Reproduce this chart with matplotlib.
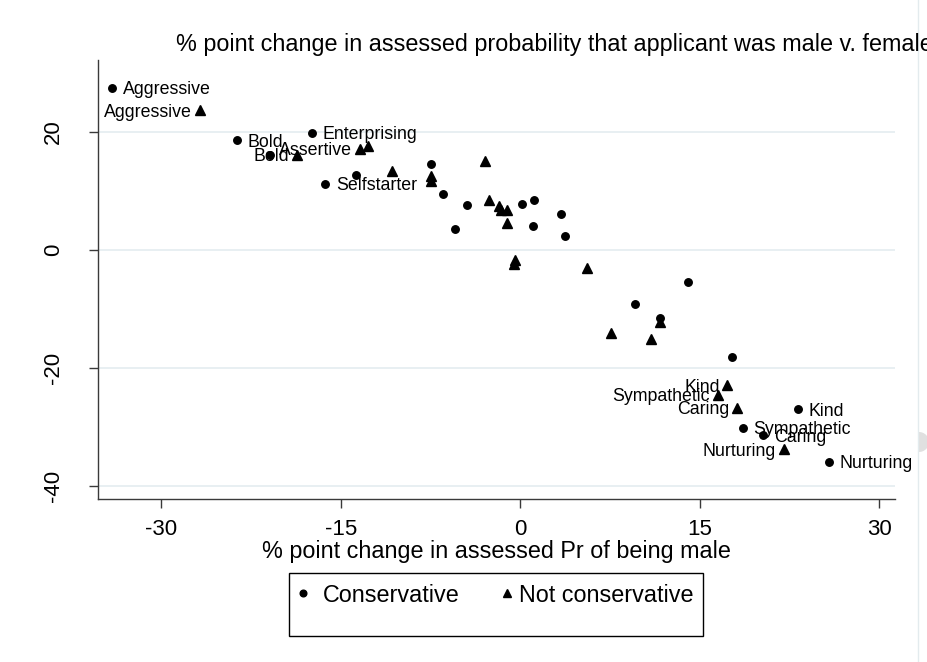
import matplotlib
matplotlib.use("Agg")
import matplotlib.pyplot as plt
from matplotlib.lines import Line2D
from matplotlib.patches import Rectangle, Wedge

plt.rcParams["font.family"] = ["Liberation Sans", "DejaVu Sans"]

# Conservative respondents: change in Pr(male) vs change in male-v-female gap
cons_x = [-34.1, -23.65, -17.4, -20.9, -16.3, -13.7, -7.5, -6.5, -4.5, -5.5,
          0.1, 1.1, 1.05, 3.4, 3.7, 9.6, 14.0, 11.7, 17.7,
          23.2, 18.6, 20.3, 25.8]
cons_y = [27.5, 18.6, 19.9, 16.1, 11.2, 12.7, 14.5, 9.5, 7.7, 3.6,
          7.8, 8.4, 4.1, 6.1, 2.3, -9.2, -5.5, -11.6, -18.1,
          -27.0, -30.1, -31.4, -35.9]
cons_labels = ["Aggressive", "Bold", "Enterprising", "", "Selfstarter", "", "", "", "", "",
               "", "", "", "", "", "", "", "", "",
               "Kind", "Sympathetic", "Caring", "Nurturing"]

# Not conservative respondents
notc_x = [-26.8, -18.7, -13.4, -12.7, -10.7, -7.5, -7.5, -3.0, -2.6, -1.8,
          -1.6, -1.1, -1.1, -0.45, -0.5, 5.6, 11.7, 7.6, 10.9,
          17.3, 16.5, 18.1, 22.0]
notc_y = [23.7, 16.1, 17.1, 17.6, 13.4, 12.5, 11.7, 15.0, 8.4, 7.5,
          6.7, 6.7, 4.5, -1.7, -2.4, -3.1, -12.2, -14.1, -15.1,
          -22.9, -24.5, -26.7, -33.8]
notc_labels = ["Aggressive", "Bold", "Assertive", "", "", "", "", "", "", "",
               "", "", "", "", "", "", "", "", "",
               "Kind", "Sympathetic", "Caring", "Nurturing"]

x_ticks = [-30, -15, 0, 15, 30]
y_ticks = [-40, -20, 0, 20]
title = "% point change in assessed probability that applicant was male v. female"
x_title = "% point change in assessed Pr of being male"
legend_names = ["Conservative", "Not conservative"]

W, H = 928, 662
fig = plt.figure(figsize=(W / 100, H / 100), dpi=100)
fig.patch.set_facecolor("white")
ax = fig.add_axes([98 / W, 1 - 499 / H, (895 - 98) / W, (499 - 60) / H])

ax.plot(cons_x, cons_y, "o", color="black", markersize=5.4, linestyle="none")
ax.plot(notc_x, notc_y, "^", color="black", markersize=7, linestyle="none")

lab_fs = 12.75
for x, y, s in zip(cons_x, cons_y, cons_labels):
    if s:
        ax.annotate(s, (x, y), xytext=(7.6, -4.6), textcoords="offset points",
                    ha="left", va="baseline", fontsize=lab_fs, color="black")
for x, y, s in zip(notc_x, notc_y, notc_labels):
    if s:
        ax.annotate(s, (x, y), xytext=(-5.6, -4.6), textcoords="offset points",
                    ha="right", va="baseline", fontsize=lab_fs, color="black")

ax.set_xlim(-35.3, 31.3)
ax.set_ylim(-42.2, 32.2)
ax.set_xticks(x_ticks)
ax.set_yticks(y_ticks)
ax.set_xticklabels([str(t) for t in x_ticks])
ax.set_yticklabels([str(t) for t in y_ticks])

for side in ("top", "right"):
    ax.spines[side].set_visible(False)
for side in ("left", "bottom"):
    ax.spines[side].set_color("#3a3a3a")
    ax.spines[side].set_linewidth(1.0)

ax.tick_params(axis="both", direction="out", length=6.5, width=1.0,
               color="#3a3a3a", labelsize=16)
ax.tick_params(axis="x", pad=8)
ax.tick_params(axis="y", pad=18)
plt.setp(ax.get_yticklabels(), rotation=90, va="center")

ax.yaxis.grid(True, color="#e6eef1", linewidth=1.3)
ax.xaxis.grid(False)
ax.set_axisbelow(True)

ax.set_xlabel(x_title, fontsize=16.8, labelpad=0)

fig.text(176 / W, 1 - 45 / H, title, ha="left", va="center", fontsize=16.8)

# Legend box
fig.add_artist(Rectangle((289 / W, 1 - 636 / H), (703 - 289) / W, (636 - 573) / H,
                         transform=fig.transFigure, fill=False,
                         edgecolor="black", linewidth=1.0))
fig.add_artist(Line2D([303 / W], [1 - 593 / H], transform=fig.transFigure,
                      marker="o", markersize=4.8, color="black", linestyle="none"))
fig.add_artist(Line2D([507 / W], [1 - 593 / H], transform=fig.transFigure,
                      marker="^", markersize=6, color="black", linestyle="none"))
fig.text(323 / W, 1 - 602 / H, legend_names[0], ha="left", va="baseline", fontsize=16.8)
fig.text(519 / W, 1 - 602 / H, legend_names[1], ha="left", va="baseline", fontsize=16.8)

# Page edge at the right
fig.add_artist(Line2D([918 / W, 918 / W], [0, 1], transform=fig.transFigure,
                      color="#e3ebee", linewidth=1.0))
fig.add_artist(Wedge((9.19, (H - 442) / 100), 0.1, -90, 90,
                     transform=fig.dpi_scale_trans, facecolor="#e0e0e0",
                     edgecolor="none"))

fig.savefig("out.png", dpi=100)
